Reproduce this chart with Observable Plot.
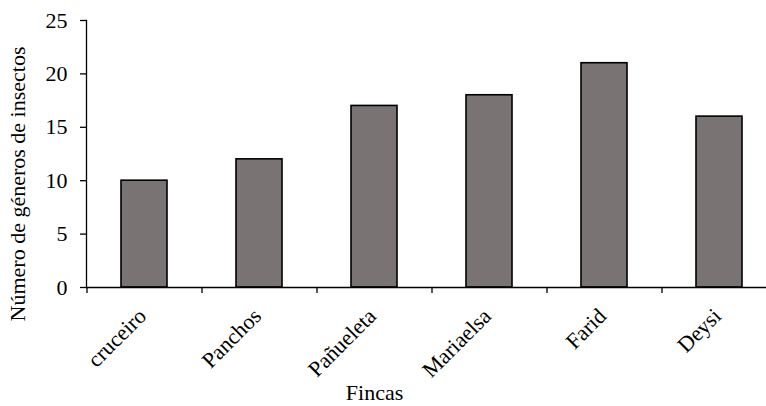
<!DOCTYPE html>
<html><head><meta charset="utf-8">
<script src="https://cdn.jsdelivr.net/npm/d3@7"></script>
<script src="https://cdn.jsdelivr.net/npm/@observablehq/plot@0.6"></script>
<style>html,body{margin:0;padding:0;background:#fff;overflow:hidden}</style>
</head><body><div id="chart"></div>
<script>
const fincas = ["cruceiro", "Panchos", "Pañueleta", "Mariaelsa", "Farid", "Deysi"];
const generos = [10, 12, 17, 18, 21, 16];
const yTicks = [0, 5, 10, 15, 20, 25];
const xTitle = "Fincas";
const yTitle = "Número de géneros de insectos";

const data = fincas.map((f, i) => ({finca: f, n: generos[i]}));
const W = 766, H = 406, mL = 86, mR = -10;
const step = (W - mR - mL) / fincas.length;
const font = "'Liberation Serif', 'Times New Roman', serif";
const fs = 22;

const chart = Plot.plot({
  width: W, height: H,
  marginLeft: mL, marginRight: mR, marginTop: 20, marginBottom: 119,
  style: {fontFamily: font, fontSize: fs + "px", color: "#000", background: "#fff", overflow: "visible"},
  x: {domain: fincas, paddingInner: 0.6, paddingOuter: 0.3},
  y: {domain: [0, 25]},
  marks: [
    Plot.barY(data, {x: "finca", y: "n", fill: "#797373", stroke: "#000", strokeWidth: 1.6}),
    Plot.ruleY([0], {stroke: "#000", strokeWidth: 1.3}),
    Plot.frame({anchor: "left", stroke: "#000", strokeWidth: 1.3}),
    Plot.axisY({ticks: yTicks, tickSize: 6, tickPadding: 13, label: null, fontSize: fs, strokeWidth: 1.3}),
    Plot.axisX({ticks: fincas, tickSize: 6, tickFormat: () => "", dx: -step / 2, label: null, strokeWidth: 1.3}),
    Plot.axisX({tickSize: 0, tickRotate: -45, tickPadding: 25, dx: -2, label: null, fontSize: fs}),
    Plot.text([xTitle], {frameAnchor: "bottom", textAnchor: "middle", dx: -57, dy: 112, fontSize: fs}),
    Plot.text([yTitle], {frameAnchor: "left", textAnchor: "middle", rotate: -90, dx: -69, dy: 30, fontSize: fs})
  ]
});
document.getElementById("chart").append(chart);
</script>
</body></html>
